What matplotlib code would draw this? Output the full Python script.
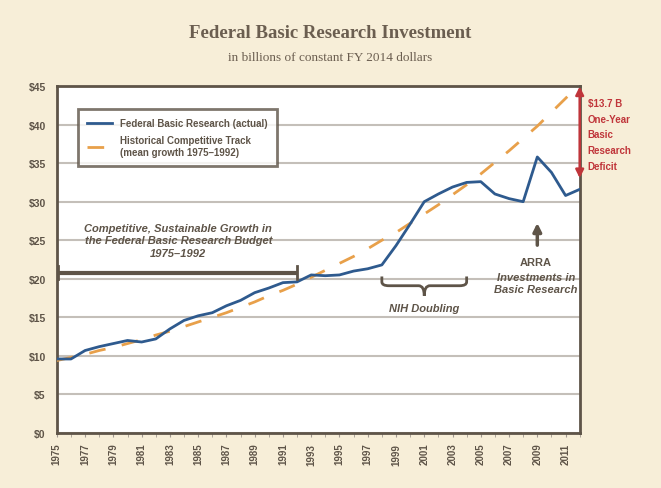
import matplotlib
matplotlib.use("Agg")
import matplotlib.pyplot as plt
from matplotlib.path import Path as MPath
from matplotlib.patches import PathPatch

# ---------------------------------------------------------------------------
# Data
# ---------------------------------------------------------------------------
YEARS = list(range(1975, 2013))
ACTUAL = [9.6, 9.6, 10.7, 11.2, 11.6, 12.0, 11.8, 12.2, 13.5, 14.6,
          15.2, 15.6, 16.5, 17.2, 18.2, 18.8, 19.5, 19.6, 20.5, 20.4,
          20.5, 21.0, 21.3, 21.8, 24.3, 27.1, 30.0, 31.0, 31.9, 32.5,
          32.6, 31.0, 30.4, 30.0, 35.8, 33.8, 30.8, 31.6]
TRACK = [9.4, 9.8, 10.2, 10.7, 11.1, 11.6, 12.1, 12.7, 13.2, 13.8,
         14.4, 15.0, 15.6, 16.3, 17.0, 17.8, 18.5, 19.3, 20.2, 21.1,
         22.0, 22.9, 23.9, 25.0, 26.0, 27.2, 28.4, 29.6, 30.9, 32.2,
         33.6, 35.1, 36.6, 38.2, 39.8, 41.6, 43.4, 45.2]
Y_TICKS = [0, 5, 10, 15, 20, 25, 30, 35, 40, 45]
YEAR_LABELS = list(range(1975, 2012, 2))

BG = "#f7eed8"
INK = "#5e5448"
BLUE = "#2e5a8e"
ORANGE = "#e8a04a"
RED = "#c0353a"
SANS = ["Liberation Sans Narrow", "Liberation Sans", "DejaVu Sans"]
SERIF = ["Liberation Serif", "DejaVu Serif"]

plt.rcParams["font.family"] = SANS

fig = plt.figure(figsize=(6.61, 4.89), dpi=100, facecolor=BG)
ax = fig.add_axes([0.086, 0.1125, 0.791, 0.7095])
ax.set_facecolor("white")

ax.plot(YEARS, TRACK, color=ORANGE, lw=2, dashes=(6, 6), zorder=3,
        label="Historical Competitive Track\n(mean growth 1975\u20131992)")
ax.plot(YEARS, ACTUAL, color=BLUE, lw=2, zorder=4,
        label="Federal Basic Research (actual)")

ax.set_xlim(1975, 2012)
ax.set_ylim(0, 45)
ax.set_yticks(Y_TICKS)
ax.set_yticklabels([f"${v}" for v in Y_TICKS], fontsize=7.5,
                   fontweight="bold", color=INK)
ax.set_xticks(YEAR_LABELS)
ax.set_xticks(YEARS, minor=True)
ax.set_xticklabels([str(y) for y in YEAR_LABELS], rotation=90,
                   fontsize=7, fontweight="bold", color=INK)
ax.tick_params(axis="y", length=0, pad=8)
ax.tick_params(axis="x", which="both", length=3, color="#a09890", pad=4)
ax.yaxis.grid(True, color="#c4bfb9", lw=1.5)
ax.set_axisbelow(True)
for s in ax.spines.values():
    s.set_color(INK)
    s.set_linewidth(2)

handles, labels = ax.get_legend_handles_labels()
leg = ax.legend(handles[::-1], labels[::-1], loc="upper left",
                bbox_to_anchor=(0.04, 0.935), fontsize=7, frameon=True,
                fancybox=False, handlelength=2.5, borderpad=1.0,
                labelspacing=0.7, borderaxespad=0)
leg.get_frame().set_edgecolor(INK)
leg.get_frame().set_linewidth(2)
for t in leg.get_texts():
    t.set_color(INK)
    t.set_fontweight("bold")

# 1975-1992 bracket
ax.plot([1975.1, 1992], [20.8, 20.8], color=INK, lw=3, zorder=5,
        solid_capstyle="butt")
for xe in (1975.1, 1992):
    ax.plot([xe, xe], [20.0, 21.6], color=INK, lw=2, zorder=5)
ax.text(1983.6, 25.0, "Competitive, Sustainable Growth in\n"
        "the Federal Basic Research Budget\n1975\u20131992",
        ha="center", va="center", fontsize=8, style="italic",
        fontweight="bold", color=INK, linespacing=1.3)

# NIH doubling brace
x0, x1, ytop, yh, ytip = 1998.0, 2004.0, 20.3, 19.1, 17.8
xm = (x0 + x1) / 2
verts = [(x0, ytop), (x0, yh + 0.5), (x0, yh), (x0 + 0.5, yh),
         (xm - 0.4, yh), (xm, yh), (xm, ytip),
         (xm, ytip), (xm, yh), (xm + 0.4, yh),
         (x1 - 0.5, yh), (x1, yh), (x1, yh + 0.5), (x1, ytop)]
codes = [MPath.MOVETO, MPath.LINETO, MPath.CURVE3, MPath.CURVE3,
         MPath.LINETO, MPath.CURVE3, MPath.CURVE3,
         MPath.MOVETO, MPath.CURVE3, MPath.CURVE3,
         MPath.LINETO, MPath.CURVE3, MPath.CURVE3, MPath.LINETO]
ax.add_patch(PathPatch(MPath(verts, codes), fill=False, edgecolor=INK, lw=2))
ax.text(xm, 16.2, "NIH Doubling", ha="center", va="center", fontsize=8,
        style="italic", fontweight="bold", color=INK)

# ARRA arrow
ax.annotate("", xy=(2009, 27.6), xytext=(2009, 24.0),
            arrowprops=dict(arrowstyle="-|>", color=INK, lw=2.5,
                            mutation_scale=12))
ax.text(2008.9, 22.2, "ARRA", ha="center", va="center", fontsize=8,
        fontweight="bold", color=INK)
ax.text(2008.9, 19.45, "Investments in\nBasic Research", ha="center",
        va="center", fontsize=8, style="italic", fontweight="bold",
        color=INK, linespacing=1.25)

# Deficit arrow
ax.annotate("", xy=(2012, 45.3), xytext=(2012, 32.7),
            arrowprops=dict(arrowstyle="<|-|>", color=RED, lw=1.8,
                            mutation_scale=12), annotation_clip=False)
ax.text(1.015, 0.965, "$13.7 B\nOne-Year\nBasic\nResearch\nDeficit",
        transform=ax.transAxes, ha="left", va="top", fontsize=7,
        fontweight="bold", color=RED, linespacing=1.7)

fig.text(0.5, 0.932, "Federal Basic Research Investment", ha="center",
         va="center", family=SERIF, fontsize=13.5, fontweight="bold",
         color="#6b5e50")
fig.text(0.5, 0.882, "in billions of constant FY 2014 dollars", ha="center",
         va="center", family=SERIF, fontsize=9.5, color="#6b5e50")

fig.savefig("out.png", dpi=100, facecolor=BG)
